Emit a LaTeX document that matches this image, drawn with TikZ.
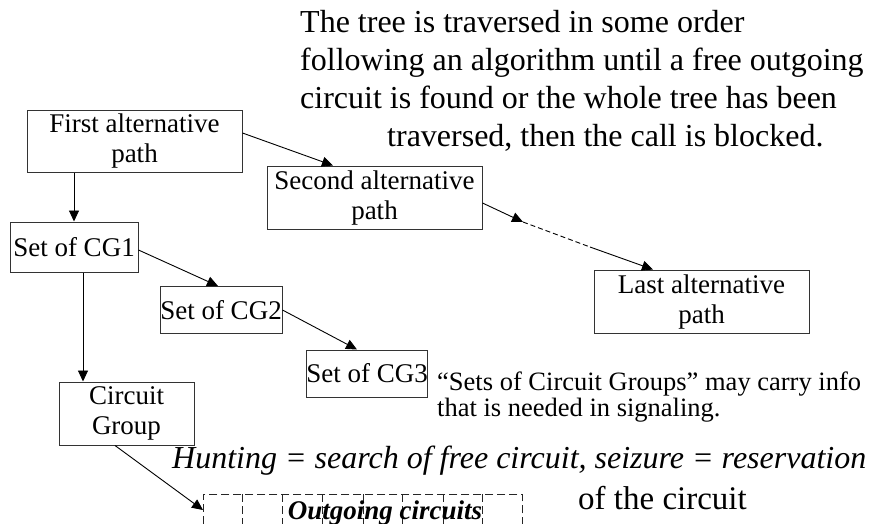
\documentclass[tikz,border=0pt]{standalone}
\usepackage{fontspec}
\setmainfont{Liberation Serif}
\usetikzlibrary{arrows.meta}

\tikzset{
  box/.style={draw=black!80, line width=1pt, inner sep=0pt, align=center,
    font=\fontsize{27}{30}\selectfont},
  arr/.style={-{Triangle[length=11pt,width=10pt]}, line width=0.9pt},
  lnk/.style={line width=0.9pt},
  outl/.style={draw=black!85, dash pattern=on 8pt off 4pt, line width=0.9pt},
  note/.style={anchor=base west, inner sep=0pt, align=left},
}

\begin{document}
\begin{tikzpicture}[x=1pt,y=-1pt]
\useasboundingbox (0,0) rectangle (875,523);

% alternative paths
\node[box, minimum width=215, minimum height=62] (first)  at (134.5,141)   {First alternative\\path};
\node[box, minimum width=215, minimum height=63] (second) at (374.5,197.5) {Second alternative\\path};
\node[box, minimum width=215, minimum height=63] (last)   at (701.5,301.5) {Last alternative\\path};

% sets of circuit groups
\node[box, minimum width=128, minimum height=50] (cg1) at (74,247)    {Set of CG1};
\node[box, minimum width=122, minimum height=47] (cg2) at (221,310)   {Set of CG2};
\node[box, minimum width=120, minimum height=47] (cg3) at (367,373.5) {Set of CG3};
\node[box, minimum width=135, minimum height=63] (cgrp) at (126.5,413.5) {Circuit\\Group};

% outgoing circuits (dashed, running past the lower edge)
\node[outl, anchor=north west, minimum width=319, minimum height=60, inner sep=0pt] (out) at (203,494) {};
\foreach \d in {39,79,119,160,199,240,279}
  \draw[outl] ([xshift=\d pt]out.north west) -- ([xshift=\d pt]out.south west);
\node[anchor=base, inner sep=0pt, font=\fontsize{27}{27}\selectfont\bfseries\itshape] (outtxt) at (385,519) {Outgoing circuits};

% connectors
\draw[arr] (first.south -| cg1.north) -- (cg1.north);
\draw[arr] ([yshift=8pt]first.east) -- ([xshift=-41.5pt]second.north);
\coordinate (m1) at (523,222);
\coordinate (m2) at (590,247);
\draw[arr] ([yshift=-5.5pt]second.east) -- (m1);
\draw[lnk, dash pattern=on 5pt off 3pt] (m1) -- (m2);
\draw[arr] (m2) -- ([xshift=-48.5pt]last.north);
\draw[arr] ([yshift=-3pt]cg1.east) -- ([xshift=-3pt]cg2.north);
\draw[arr] (cg2.east) -- ([xshift=-10pt]cg3.north);
\draw[arr] ([xshift=9pt]cg1.south) -- ([xshift=9pt]cg1.south |- cgrp.north);
\draw[arr] ([xshift=-11.5pt]cgrp.south) -- ([yshift=-16pt]out.north west);

% explanatory texts (each node is anchored at the baseline of its last line)
\node[note, font=\fontsize{32}{37.7}\selectfont] (top) at (300,146)
  {The tree is traversed in some order\\
   following an algorithm until a free outgoing\\
   circuit is found or the whole tree has been\\
   \hspace*{87pt}traversed, then the call is blocked.};
\node[note, font=\fontsize{26.5}{26}\selectfont] (sets) at (437,416)
  {“Sets of Circuit Groups” may carry info\\that is needed in signaling.};
\node[note, font=\fontsize{32}{32}\selectfont\itshape] (hunt) at (172,468)
  {Hunting = search of free circuit, seizure = reservation};
\node[note, font=\fontsize{33}{33}\selectfont] (ofc) at (578,509) {of the circuit};
\end{tikzpicture}
\end{document}
